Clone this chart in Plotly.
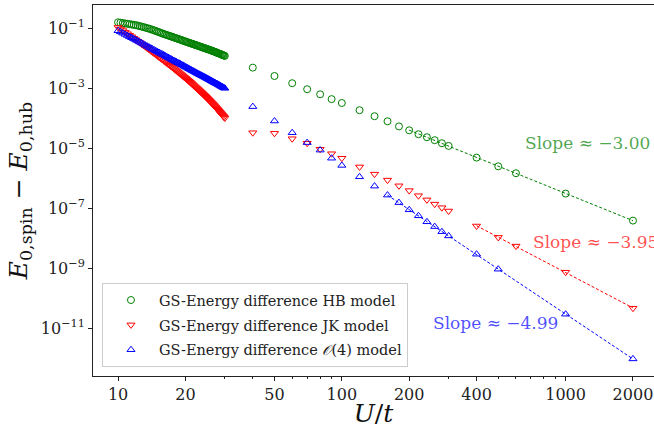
import numpy as np
import plotly.graph_objects as go

# ---- data (y values given as log10 of the energy difference) ----
dense_x = [10.0, 10.25, 10.5, 10.75, 11.0, 11.25, 11.5, 11.75, 12.0, 12.25, 12.5, 12.75,
           13.0, 13.25, 13.5, 13.75, 14.0, 14.25, 14.5, 14.75, 15.0, 15.25, 15.5, 15.75,
           16.0, 16.25, 16.5, 16.75, 17.0, 17.25, 17.5, 17.75, 18.0, 18.25, 18.5, 18.75,
           19.0, 19.25, 19.5, 19.75, 20.0, 20.25, 20.5, 20.75, 21.0, 21.25, 21.5, 21.75,
           22.0, 22.25, 22.5, 22.75, 23.0, 23.25, 23.5, 23.75, 24.0, 24.25, 24.5, 24.75,
           25.0, 25.25, 25.5, 25.75, 26.0, 26.25, 26.5, 26.75, 27.0, 27.25, 27.5, 27.75,
           28.0, 28.25, 28.5, 28.75, 29.0, 29.25, 29.5, 29.75, 30.0]

hb_dense_log = [-0.81, -0.822, -0.835, -0.848, -0.86, -0.871, -0.883, -0.894, -0.905, -0.921,
                -0.937, -0.953, -0.97, -0.987, -1.005, -1.022, -1.04, -1.06, -1.08, -1.10,
                -1.12, -1.14, -1.16, -1.18, -1.20, -1.216, -1.233, -1.249, -1.265, -1.281,
                -1.298, -1.314, -1.33, -1.345, -1.36, -1.375, -1.39, -1.405, -1.42, -1.435,
                -1.45, -1.464, -1.478, -1.491, -1.505, -1.518, -1.53, -1.543, -1.555, -1.568,
                -1.58, -1.593, -1.605, -1.618, -1.63, -1.643, -1.655, -1.666, -1.678, -1.689,
                -1.70, -1.711, -1.723, -1.734, -1.745, -1.756, -1.768, -1.779, -1.79, -1.803,
                -1.815, -1.828, -1.84, -1.851, -1.862, -1.874, -1.885, -1.896, -1.908, -1.919,
                -1.93]
jk_dense_log = [-0.98, -1.033, -1.085, -1.138, -1.19, -1.24, -1.29, -1.34, -1.39, -1.438,
                -1.485, -1.533, -1.58, -1.625, -1.67, -1.715, -1.76, -1.803, -1.845, -1.888,
                -1.93, -1.97, -2.01, -2.05, -2.09, -2.128, -2.165, -2.203, -2.24, -2.278,
                -2.315, -2.353, -2.39, -2.425, -2.46, -2.495, -2.53, -2.565, -2.60, -2.635,
                -2.67, -2.705, -2.74, -2.775, -2.81, -2.845, -2.88, -2.915, -2.95, -2.983,
                -3.015, -3.048, -3.08, -3.113, -3.145, -3.178, -3.21, -3.243, -3.275, -3.308,
                -3.34, -3.373, -3.405, -3.438, -3.47, -3.503, -3.535, -3.568, -3.60, -3.635,
                -3.67, -3.705, -3.74, -3.773, -3.805, -3.838, -3.87, -3.903, -3.935, -3.968,
                -4.00]
o4_dense_log = [-1.09, -1.13, -1.17, -1.21, -1.25, -1.288, -1.325, -1.363, -1.40, -1.435,
                -1.47, -1.505, -1.54, -1.573, -1.605, -1.638, -1.67, -1.70, -1.73, -1.76,
                -1.79, -1.818, -1.845, -1.873, -1.90, -1.928, -1.955, -1.983, -2.01, -2.035,
                -2.06, -2.085, -2.11, -2.133, -2.155, -2.178, -2.20, -2.223, -2.245, -2.268,
                -2.29, -2.313, -2.335, -2.358, -2.38, -2.40, -2.42, -2.44, -2.46, -2.48,
                -2.50, -2.52, -2.54, -2.558, -2.575, -2.593, -2.61, -2.628, -2.645, -2.663,
                -2.68, -2.698, -2.715, -2.733, -2.75, -2.768, -2.785, -2.803, -2.82, -2.835,
                -2.85, -2.865, -2.88, -2.898, -2.915, -2.933, -2.95, -2.965, -2.98, -2.995,
                -3.01]

sparse_x = [40, 50, 60, 70, 80, 90, 100, 120, 140, 160, 180, 200, 220, 240, 260, 280,
            300, 400, 500, 600, 1000, 2000]
hb_sparse_log = [-2.32, -2.60, -2.84, -3.04, -3.21, -3.37, -3.50, -3.74, -3.94, -4.11,
                 -4.28, -4.41, -4.54, -4.64, -4.74, -4.84, -4.93, -5.32, -5.61, -5.84,
                 -6.52, -7.42]
jk_sparse_log = [-4.49, -4.51, -4.69, -4.84, -5.04, -5.19, -5.34, -5.63, -5.87, -6.07,
                 -6.26, -6.42, -6.59, -6.73, -6.87, -6.99, -7.10, -7.60, -7.98, -8.27,
                 -9.14, -10.34]
o4_sparse_x = [40, 50, 60, 70, 80, 90, 100, 120, 140, 160, 180, 200, 220, 240, 260, 280,
               300, 400, 500, 1000, 2000]
o4_sparse_log = [-3.62, -4.10, -4.49, -4.82, -5.07, -5.34, -5.58, -5.96, -6.27, -6.57,
                 -6.82, -7.06, -7.26, -7.46, -7.62, -7.79, -7.93, -8.54, -9.04, -10.54,
                 -12.03]

fit_start = {"HB": 200, "JK": 400, "O4": 160}
slope_labels = ["Slope ≈ −3.00", "Slope ≈ −3.95", "Slope ≈ −4.99"]

x_tickvals = [10, 20, 50, 100, 200, 400, 1000, 2000]
x_minor = [30, 40, 60, 70, 80, 90, 300, 500, 600, 700, 800, 900]
y_exponents = [-11, -9, -7, -5, -3, -1]

GREEN, RED, BLUE = "#008000", "#ff0000", "#0000ff"
FONT = "DejaVu Serif"

fig = go.Figure()

series = [
    ("HB", "GS-Energy difference HB model", GREEN, "circle-open", sparse_x, hb_dense_log, hb_sparse_log),
    ("JK", "GS-Energy difference JK model", RED, "triangle-down-open", sparse_x, jk_dense_log, jk_sparse_log),
    ("O4", "GS-Energy difference <i>𝒪</i>(4) model", BLUE, "triangle-up-open", o4_sparse_x, o4_dense_log, o4_sparse_log),
]

for key, name, col, sym, sx, dlog, slog in series:
    xs = list(dense_x) + list(sx)
    ys = list(10 ** np.array(dlog)) + list(10 ** np.array(slog))
    fig.add_trace(go.Scatter(
        x=xs, y=ys, mode="markers", name=name, legendgroup=key,
        marker=dict(symbol=sym, size=7, color=col, line=dict(width=1, color=col)),
    ))

# fitted power-law lines on the large-U tail
for key, name, col, sym, sx, dlog, slog in series:
    sx_arr = np.array(sx, dtype=float)
    sl = np.array(slog)
    m = sx_arr >= fit_start[key]
    p = np.polyfit(np.log10(sx_arr[m]), sl[m], 1)
    xf = np.array([sx_arr[m][0], sx_arr[m][-1]])
    yf = 10 ** np.polyval(p, np.log10(xf))
    fig.add_trace(go.Scatter(
        x=xf, y=yf, mode="lines", showlegend=False, legendgroup=key,
        line=dict(color=col, width=1, dash="3px,2px"),
    ))

ann_pos = [(0.766, 0.629, "rgba(0,128,0,0.7)"),
           (0.780, 0.362, "rgba(255,0,0,0.7)"),
           (0.602, 0.144, "rgba(0,0,255,0.7)")]
for (ax_, ay_, c), txt in zip(ann_pos, slope_labels):
    fig.add_annotation(x=ax_, y=ay_, xref="paper", yref="paper", text=txt,
                       showarrow=False, xanchor="left", yanchor="middle",
                       font=dict(family=FONT, size=17, color=c))

axis_common = dict(showline=True, linecolor="#222", linewidth=1, mirror=True,
                   ticks="outside", ticklen=4, tickcolor="#222", showgrid=False,
                   zeroline=False, tickfont=dict(family=FONT, size=16, color="#222"))

fig.update_xaxes(type="log", range=[0.888, 3.395],
                 tickvals=x_tickvals, ticktext=[str(v) for v in x_tickvals],
                 minor=dict(tickvals=x_minor, ticklen=2, ticks="outside", tickcolor="#222"),
                 title=dict(text="<i>U</i>/<i>t</i>", font=dict(family=FONT, size=25, color="#111"), standoff=4),
                 **axis_common)
fig.update_yaxes(type="log", range=[-12.6, -0.233],
                 tickvals=[10.0 ** e for e in y_exponents],
                 ticktext=["10<sup>−%d</sup>" % (-e) for e in y_exponents],
                 title=dict(text="<i>E</i><sub>0,spin</sub> − <i>E</i><sub>0,hub</sub>",
                            font=dict(family=FONT, size=25, color="#111"), standoff=6),
                 **axis_common)

fig.update_layout(
    width=654, height=428,
    margin=dict(l=93, r=0, t=5, b=52),
    font=dict(family=FONT),
    paper_bgcolor="white", plot_bgcolor="white",
    legend=dict(x=0.016, y=0.024, xanchor="left", yanchor="bottom",
                bgcolor="rgba(255,255,255,0.8)", bordercolor="#cccccc", borderwidth=1,
                font=dict(family=FONT, size=14.5, color="#222"),
                traceorder="grouped", tracegroupgap=3, itemwidth=46),
)

fig.write_html("out.html")
